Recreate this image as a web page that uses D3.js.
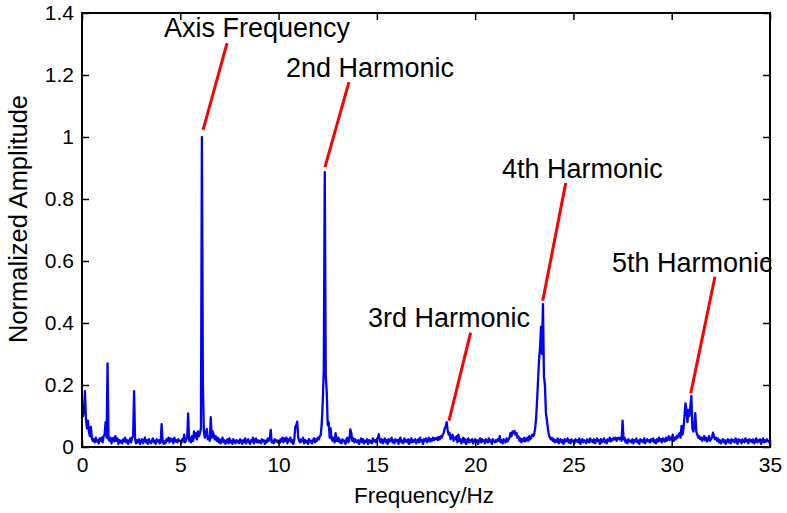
<!DOCTYPE html>
<html><head><meta charset="utf-8">
<script src="https://cdn.jsdelivr.net/npm/d3@7/dist/d3.min.js"></script>
<style>
html,body{margin:0;padding:0;background:#fff;}
svg{display:block;font-family:"Liberation Sans",Arial,sans-serif;}
</style></head>
<body>
<svg id="chart" width="787" height="513"></svg>
<script>
// Spectrum sampled every 0.05 Hz from 0 to 35 Hz (one row per 1 Hz)
const freqStep = 0.05;
const amplitude = [
.14,.10,.12,.18,.09,.06,.085,.05,.035,.065,.03,.02,.025,.015,.03,.018,.022,.012,.028,.02,
.03,.015,.035,.04,.08,.03,.27,.025,.02,.03,.012,.025,.03,.018,.035,.02,.028,.01,.022,.015,
.02,.012,.025,.018,.03,.015,.022,.01,.02,.028,.015,.03,.035,.18,.025,.012,.022,.015,.025,.01,
.018,.025,.012,.02,.03,.015,.022,.01,.025,.018,.012,.02,.028,.015,.02,.01,.025,.018,.022,.012,
.015,.074,.02,.01,.018,.012,.025,.02,.03,.015,.028,.02,.025,.012,.03,.018,.022,.015,.025,.02,
.02,.012,.025,.018,.04,.015,.025,.03,.108,.02,.03,.015,.035,.02,.05,.03,.045,.025,.05,.035,
.045,.06,1.0,.2,.05,.03,.045,.058,.025,.03,.02,.096,.03,.05,.04,.025,.035,.02,.03,.015,
.025,.012,.02,.03,.015,.022,.01,.018,.025,.012,.028,.015,.02,.01,.025,.018,.012,.022,.015,.02,
.012,.025,.018,.01,.022,.015,.028,.012,.02,.025,.015,.01,.022,.018,.03,.012,.02,.028,.015,.022,
.015,.02,.012,.025,.018,.022,.01,.02,.015,.028,.02,.025,.055,.015,.02,.012,.025,.018,.022,.015,
.02,.012,.025,.018,.03,.015,.028,.02,.03,.012,.025,.02,.03,.015,.022,.01,.025,.065,.07,.082,
.03,.02,.015,.025,.018,.03,.012,.022,.015,.02,.01,.025,.018,.02,.012,.022,.028,.015,.025,.02,
.03,.025,.035,.04,.08,.15,.25,.887,.23,.18,.07,.08,.03,.06,.025,.02,.03,.015,.045,.02,
.02,.03,.015,.022,.012,.025,.018,.02,.01,.025,.03,.015,.022,.057,.045,.02,.028,.015,.025,.02,
.015,.022,.01,.02,.028,.015,.025,.012,.02,.018,.025,.01,.022,.015,.02,.012,.028,.018,.022,.015,
.025,.03,.041,.02,.015,.025,.012,.02,.028,.015,.022,.01,.025,.018,.02,.03,.015,.022,.012,.025,
.018,.022,.01,.025,.03,.015,.02,.012,.028,.018,.022,.015,.025,.01,.02,.028,.015,.022,.018,.025,
.012,.02,.025,.015,.03,.018,.022,.01,.025,.02,.028,.015,.022,.03,.018,.025,.02,.03,.022,.028,
.025,.03,.022,.032,.025,.035,.03,.04,.045,.06,.065,.08,.055,.04,.045,.025,.035,.04,.02,.03,
.025,.035,.015,.04,.02,.025,.012,.022,.03,.015,.025,.01,.02,.028,.015,.022,.018,.025,.012,.02,
.025,.015,.022,.01,.02,.028,.015,.025,.018,.022,.012,.025,.02,.015,.028,.018,.022,.01,.025,.02,
.015,.022,.018,.025,.02,.035,.015,.022,.012,.025,.02,.015,.028,.018,.025,.03,.045,.035,.05,.045,
.052,.04,.045,.03,.035,.02,.028,.015,.025,.02,.03,.018,.025,.03,.02,.035,.025,.03,.04,.035,
.04,.06,.09,.15,.216,.28,.32,.388,.3,.461,.227,.2,.11,.087,.06,.04,.03,.025,.03,.02,
.025,.015,.022,.018,.028,.012,.02,.025,.015,.022,.01,.025,.018,.02,.028,.015,.022,.012,.025,.018,
.02,.012,.025,.018,.022,.015,.028,.01,.02,.025,.015,.022,.018,.012,.025,.02,.015,.028,.018,.022,
.015,.025,.012,.02,.028,.018,.022,.01,.025,.015,.02,.028,.015,.022,.012,.025,.02,.03,.018,.025,
.022,.03,.025,.03,.02,.028,.03,.025,.03,.02,.085,.025,.03,.015,.022,.012,.025,.018,.02,.015,
.025,.012,.022,.018,.028,.015,.02,.01,.025,.018,.022,.015,.028,.012,.02,.025,.018,.022,.015,.025,
.02,.028,.015,.022,.012,.025,.018,.03,.02,.025,.015,.028,.022,.018,.03,.02,.025,.035,.022,.03,
.025,.04,.02,.03,.025,.035,.03,.04,.045,.03,.068,.04,.06,.1,.141,.12,.08,.12,.1,.13,
.165,.06,.05,.07,.109,.05,.04,.03,.035,.025,.03,.02,.028,.035,.022,.03,.018,.025,.035,.02,
.025,.03,.046,.035,.025,.03,.02,.028,.015,.022,.012,.02,.025,.015,.022,.01,.02,.025,.015,.022,
.012,.025,.018,.022,.015,.028,.02,.01,.025,.018,.022,.012,.025,.02,.015,.028,.018,.022,.012,.025,
.018,.022,.015,.025,.012,.02,.028,.015,.022,.018,.025,.01,.02,.028,.015,.022,.018,.025,.02,.015,
.02
];
const xTicks = [0,5,10,15,20,25,30,35];
const yTicks = [0,0.2,0.4,0.6,0.8,1,1.2,1.4];
const yTickLabels = ["0","0.2","0.4","0.6","0.8","1","1.2","1.4"];
const xLabel = "Frequency/Hz";
const yLabel = "Normalized Amplitude";
// annotations: label anchor (freq, amp), leader line from (f1,a1) to (f2,a2)
const annLabels = ["Axis Frequency","2nd Harmonic","3rd Harmonic","4th Harmonic","5th Harmonic"];
const annTextF = [4.17,10.38,14.55,21.37,26.96];
const annTextA = [1.323,1.194,0.387,0.868,0.565];
const annLineF1 = [7.38,13.58,19.77,24.61,32.20];
const annLineA1 = [1.303,1.177,0.369,0.852,0.549];
const annLineF2 = [6.16,12.36,18.67,23.44,30.97];
const annLineA2 = [1.023,0.903,0.085,0.472,0.173];

const W = 787, H = 513;
const m = {left:82, top:13, right:17, bottom:66};
const svg = d3.select("#chart");
const x = d3.scaleLinear().domain([0,35]).range([m.left, W - m.right]);
const y = d3.scaleLinear().domain([0,1.4]).range([H - m.bottom, m.top]);

const data = amplitude.map((a,i)=>({f:i*freqStep, a:a}));

svg.append("rect").attr("width",W).attr("height",H).attr("fill","#fff");

// spectrum line
svg.append("path")
  .datum(data)
  .attr("fill","none")
  .attr("stroke","#0000ff")
  .attr("stroke-width",2.3)
  .attr("stroke-linejoin","round")
  .attr("d", d3.line().x(d=>x(d.f)).y(d=>y(d.a)));

// annotation leader lines
annLabels.forEach((t,i)=>{
  svg.append("line")
    .attr("x1",x(annLineF1[i])).attr("y1",y(annLineA1[i]))
    .attr("x2",x(annLineF2[i])).attr("y2",y(annLineA2[i]))
    .attr("stroke","#ff0000").attr("stroke-width",3);
  svg.append("text")
    .attr("x",x(annTextF[i])).attr("y",y(annTextA[i]))
    .attr("font-size",27).attr("fill","#000")
    .text(t);
});

// axes (box with inward ticks)
const tl = 7;
const fs = 21;
svg.append("g").attr("transform",`translate(0,${H-m.bottom})`)
  .call(d3.axisBottom(x).tickValues(xTicks).tickSize(-tl).tickPadding(10).tickFormat(d3.format("d")))
  .call(g=>{g.select(".domain").remove(); g.selectAll("line").attr("stroke","#000").attr("stroke-width",1.5);
            g.selectAll("text").attr("font-size",fs).attr("fill","#000").attr("font-family","Liberation Sans, Arial, sans-serif");});
svg.append("g").attr("transform",`translate(0,${m.top})`)
  .call(d3.axisTop(x).tickValues(xTicks).tickSize(-tl).tickFormat(""))
  .call(g=>{g.select(".domain").remove(); g.selectAll("line").attr("stroke","#000").attr("stroke-width",1.5);});
svg.append("g").attr("transform",`translate(${m.left},0)`)
  .call(d3.axisLeft(y).tickValues(yTicks).tickSize(-tl).tickPadding(8).tickFormat((d,i)=>yTickLabels[i]))
  .call(g=>{g.select(".domain").remove(); g.selectAll("line").attr("stroke","#000").attr("stroke-width",1.5);
            g.selectAll("text").attr("font-size",fs).attr("fill","#000").attr("font-family","Liberation Sans, Arial, sans-serif");});
svg.append("g").attr("transform",`translate(${W-m.right},0)`)
  .call(d3.axisRight(y).tickValues(yTicks).tickSize(-tl).tickFormat(""))
  .call(g=>{g.select(".domain").remove(); g.selectAll("line").attr("stroke","#000").attr("stroke-width",1.5);});

svg.append("rect")
  .attr("x",m.left).attr("y",m.top)
  .attr("width",W-m.left-m.right).attr("height",H-m.top-m.bottom)
  .attr("fill","none").attr("stroke","#000").attr("stroke-width",2);

svg.append("text")
  .attr("x",(x(0)+x(35))/2 - 2).attr("y",503)
  .attr("text-anchor","middle").attr("font-size",22.5).attr("fill","#000")
  .text(xLabel);
svg.append("text")
  .attr("transform",`translate(27,219) rotate(-90)`)
  .attr("text-anchor","middle").attr("font-size",25.5).attr("fill","#000")
  .text(yLabel);
</script>
</body></html>
